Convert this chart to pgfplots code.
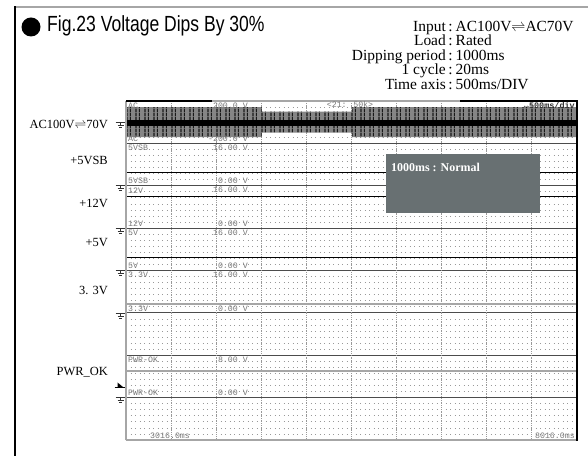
\documentclass[border=0pt]{standalone}
\usepackage{fontspec}
\setmainfont{Liberation Serif}
\newfontfamily\titlefont{Liberation Sans}
\newfontfamily\scopefont{Liberation Mono}
\usepackage{pgfplots}
\pgfplotsset{compat=1.18}
\usetikzlibrary{patterns}
\definecolor{boxgray}{RGB}{104,112,114}
\definecolor{lblgray}{RGB}{120,120,120}
\pgfdeclarepatternformonly{acstripes}{\pgfpointorigin}{\pgfpoint{9bp}{4bp}}{\pgfpoint{9bp}{4bp}}{%
  \pgfpathrectangle{\pgfpoint{0.3bp}{0bp}}{\pgfpoint{1.6bp}{4bp}}\pgfusepath{fill}%
  \pgfpathrectangle{\pgfpoint{4.4bp}{0bp}}{\pgfpoint{0.9bp}{4bp}}\pgfusepath{fill}}
\pgfplotsset{chan/.style={at={(126bp,#1)}, anchor=south west, width=450bp, height=42.375bp,
  scale only axis, xmin=3016, xmax=8016, hide axis, clip=false},
  gridbase/.style={at={(126bp,16bp)}, anchor=south west, width=450bp, height=339bp, scale only axis,
  xmin=3016, xmax=8016, ymin=0, ymax=56, axis line style={draw=none},
  xticklabels={}, yticklabels={}, major tick length=0pt}}
\newcommand{\gnd}[1]{%
  \draw[black!80, line width=0.7bp] (115.5,#1) -- (125.5,#1);
  \draw[black!80, line width=0.7bp] (120.5,#1) -- (120.5,#1-3);
  \draw[black!80, line width=0.7bp] (117.5,#1-3) -- (123.5,#1-3);
  \draw[black!80, line width=0.7bp] (119,#1-5) -- (122,#1-5);}
\newcommand{\scl}[1]{\scopefont\fontsize{8.3}{8.3}\selectfont\color{lblgray}#1}
\newcommand{\hd}{\fontsize{15.5}{15.5}\selectfont}
\newcommand{\lb}{\fontsize{12.5}{12.5}\selectfont}
\begin{document}
\begin{tikzpicture}[x=1bp,y=1bp]
\path[use as bounding box] (0,0) rectangle (588,456);
% outer frame
\draw[gray!70, line width=1.5bp] (14.25,449) -- (588,449);
\draw[black, line width=1.5bp] (15,0) -- (15,449.75);
% title
\fill (31,429) circle (9.5);
\node[anchor=base west, inner sep=0] at (47,424) {\titlefont\fontsize{22}{22}\selectfont\scalebox{0.80}[1]{Fig.23 Voltage Dips By 30\%}};
% header right
\foreach \l/\r/\yy in {Input/{AC100V$\rightleftharpoons$AC70V}/424.5, Load/Rated/410, Dipping period/1000ms/395.5, 1 cycle/20ms/381, Time axis/{500ms/DIV}/366.5}{
  \node[anchor=base east, inner sep=0] at (446,\yy) {\hd \l};
  \node[anchor=base, inner sep=0] at (450.5,\yy) {\hd :};
  \node[anchor=base west, inner sep=0] at (455.5,\yy) {\hd \r};
}
% left channel names
\node[anchor=east, inner sep=0] at (108,332) {\lb AC100V$\rightleftharpoons$70V};
\node[anchor=east, inner sep=0] at (108,296) {\lb +5VSB};
\node[anchor=east, inner sep=0] at (108,253) {\lb +12V};
\node[anchor=east, inner sep=0] at (108,213) {\lb +5V};
\node[anchor=east, inner sep=0] at (108,166) {\lb 3. 3V};
\node[anchor=east, inner sep=0] at (108,84) {\lb PWR\_OK};
% ground symbols
\gnd{333.8}\gnd{270.25}\gnd{227.9}\gnd{185.5}\gnd{143.1}\gnd{58.4}
\fill[black] (117.5,69) -- (123,69) -- (117.5,73.5) -- cycle;
\draw[black, line width=0.7bp] (114.5,69) -- (125.5,69);
% grid: horizontal dotted rows and zone separators
\begin{axis}[gridbase, xtick=\empty, ytick={1,...,55}, ymajorgrids,
  major grid style={gray!80, line width=0.75bp, dash pattern=on 0.75bp off 3.75bp},
  extra y ticks={7,14,...,49}, extra y tick labels={},
  extra y tick style={grid=major, major grid style={black!70, line width=0.8bp, solid}}]
\addplot[draw=none] coordinates {(3016,0) (8016,56)};
\end{axis}
% grid: vertical dotted division lines
\begin{axis}[gridbase, ytick=\empty, xtick={3516,4016,...,7516}, xmajorgrids,
  major grid style={gray!80, line width=0.6bp, dash pattern=on 0.6bp off 1.2bp}]
\addplot[draw=none] coordinates {(3016,0) (8016,56)};
\end{axis}
% AC channel (V)
\begin{axis}[chan=312.625bp, ymin=-200, ymax=200]
\addplot[fill=black!48, draw=none] coordinates {(3016,141) (4526,141) (4526,99) (5526,99) (5526,141) (8016,141) (8016,-141) (5526,-141) (5526,-99) (4526,-99) (4526,-141) (3016,-141)} -- cycle;
\addplot[pattern=acstripes, pattern color=black!90, draw=none] coordinates {(3016,141) (4526,141) (4526,99) (5526,99) (5526,141) (8016,141) (8016,-141) (5526,-141) (5526,-99) (4526,-99) (4526,-141) (3016,-141)} -- cycle;
\addplot[black, line width=6bp] coordinates {(3016,-8) (8016,-8)};
\end{axis}
% 5VSB
\begin{axis}[chan=270.25bp, ymin=0, ymax=16]
\addplot[black, line width=0.9bp] coordinates {(3016,5.0) (8016,5.0)};
\end{axis}
% 12V
\begin{axis}[chan=227.875bp, ymin=0, ymax=16]
\addplot[black, line width=0.9bp] coordinates {(3016,12.0) (8016,12.0)};
\end{axis}
% 5V
\begin{axis}[chan=185.5bp, ymin=0, ymax=16]
\addplot[black, line width=0.9bp] coordinates {(3016,5.0) (8016,5.0)};
\end{axis}
% 3.3V
\begin{axis}[chan=143.125bp, ymin=0, ymax=16]
\addplot[gray!70, line width=2.5bp] coordinates {(3016,3.3) (8016,3.3)};
\end{axis}
% PWR_OK
\begin{axis}[chan=58.375bp, ymin=0, ymax=8]
\addplot[gray!70, line width=2.5bp] coordinates {(3016,5.0) (8016,5.0)};
\end{axis}
% scope frame
\draw[gray!70, line width=1.5bp] (126,15.5) -- (126,355);
\draw[gray!70, line width=1.5bp] (126,16) -- (577,16);
\draw[gray!70, line width=1.2bp] (126,355) -- (577,355);
\draw[black, line width=2bp] (126,355) -- (212,355);
\draw[black, line width=2bp] (460,355) -- (577,355);
\draw[black, line width=2bp] (577,15) -- (577,356);
% scope labels
\foreach \n/\t/\b/\yt/\yb in {AC/200.0 V/-200.0 V/350.5/317.1, 5VSB/16.00 V/0.00 V/308.1/274.75, 12V/16.00 V/0.00 V/265.75/232.4, 5V/16.00 V/0.00 V/223.4/190, 3.3V/16.00 V/0.00 V/181/147.6, PWR-OK/8.00 V/0.00 V/96.25/62.9}{
  \node[anchor=west, inner sep=0] at (128,\yt) {\scl{\n}};
  \node[anchor=east, inner sep=0] at (248,\yt) {\scl{\t}};
  \node[anchor=west, inner sep=0] at (128,\yb) {\scl{\n}};
  \node[anchor=east, inner sep=0] at (248,\yb) {\scl{\b}};
}
\node[inner sep=0] at (350,351) {\scl{<21: 50k>}};
\node[anchor=east, inner sep=0] at (575,351) {\scopefont\bfseries\fontsize{8.5}{8.5}\selectfont\color{black!80}↔500ms/div};
\node[anchor=west, inner sep=0] at (150,20) {\scl{3016.0ms}};
\node[anchor=east, inner sep=0] at (575,20) {\scl{8016.0ms}};
% overlay box
\fill[boxgray] (386,243) rectangle (540,302);
\node[anchor=west, inner sep=0] at (391,289) {\bfseries\fontsize{12}{12}\selectfont\color{white}1000ms : Normal};
\end{tikzpicture}
\end{document}
